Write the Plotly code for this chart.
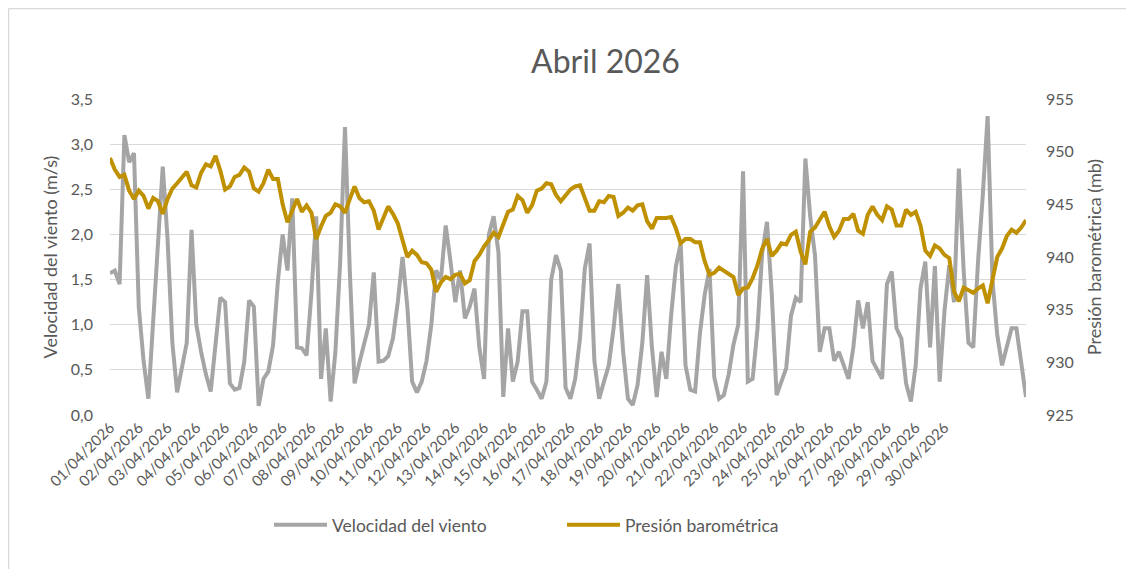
import plotly.graph_objects as go

# Sampling interval of the readings (hours)
SAMPLE_HOURS = 4

dates = ["01/04/2026", "02/04/2026", "03/04/2026", "04/04/2026", "05/04/2026",
         "06/04/2026", "07/04/2026", "08/04/2026", "09/04/2026", "10/04/2026",
         "11/04/2026", "12/04/2026", "13/04/2026", "14/04/2026", "15/04/2026",
         "16/04/2026", "17/04/2026", "18/04/2026", "19/04/2026", "20/04/2026",
         "21/04/2026", "22/04/2026", "23/04/2026", "24/04/2026", "25/04/2026",
         "26/04/2026", "27/04/2026", "28/04/2026", "29/04/2026", "30/04/2026"]

# Velocidad del viento (m/s), every 4 h
wind = [1.57, 1.6, 1.45, 3.1, 2.8, 2.9, 1.2, 0.6, 0.18, 1.0, 1.9, 2.75,
        1.95, 0.8, 0.25, 0.5, 0.8, 2.05, 1.0, 0.7, 0.45, 0.26, 0.8, 1.3,
        1.25, 0.35, 0.28, 0.3, 0.59, 1.27, 1.2, 0.1, 0.4, 0.48, 0.77, 1.48,
        2.0, 1.6, 2.4, 0.75, 0.74, 0.66, 1.35, 2.2, 0.4, 0.96, 0.15, 0.7,
        1.7, 3.19, 1.6, 0.35, 0.58, 0.8, 1.0, 1.58, 0.59, 0.6, 0.65, 0.85,
        1.25, 1.75, 1.2, 0.37, 0.25, 0.37, 0.6, 1.0, 1.6, 1.5, 2.1, 1.7,
        1.25, 1.6, 1.07, 1.2, 1.4, 0.75, 0.4, 2.0, 2.2, 1.8, 0.2, 0.96,
        0.37, 0.59, 1.15, 1.15, 0.37, 0.28, 0.18, 0.37, 1.5, 1.77, 1.6, 0.3,
        0.18, 0.4, 0.85, 1.62, 1.9, 0.6, 0.18, 0.37, 0.55, 0.96, 1.45, 0.7,
        0.18, 0.11, 0.33, 0.8, 1.55, 0.75, 0.2, 0.7, 0.4, 1.1, 1.65, 1.9,
        0.55, 0.28, 0.26, 0.9, 1.33, 1.62, 0.42, 0.18, 0.22, 0.45, 0.78, 1.0,
        2.7, 0.37, 0.4, 0.95, 1.8, 2.14, 1.33, 0.22, 0.37, 0.52, 1.1, 1.3,
        1.25, 2.84, 2.2, 1.77, 0.7, 0.96, 0.96, 0.6, 0.7, 0.55, 0.4, 0.75,
        1.27, 0.96, 1.25, 0.6, 0.5, 0.4, 1.45, 1.59, 0.96, 0.85, 0.35, 0.15,
        0.55, 1.4, 1.7, 0.75, 1.65, 0.37, 1.15, 1.66, 1.25, 2.73, 1.6, 0.8,
        0.75, 1.7, 2.44, 3.31, 1.5, 0.89, 0.55, 0.75, 0.96, 0.96, 0.55, 0.2]

# Presión barométrica (mb), every 4 h
pressure = [949.4, 948.3, 947.6, 947.8, 946.3, 945.5, 946.3, 945.8, 944.6, 945.6, 945.3, 944.1,
            945.5, 946.5, 947.0, 947.6, 948.1, 946.8, 946.6, 948.0, 948.8, 948.6, 949.6, 948.2,
            946.4, 946.7, 947.6, 947.8, 948.5, 948.1, 946.5, 946.2, 947.0, 948.3, 947.4, 947.4,
            945.0, 943.3, 944.5, 945.5, 944.3, 944.9, 944.2, 941.7, 942.9, 943.9, 944.2, 945.0,
            944.8, 944.2, 945.5, 946.7, 945.6, 945.2, 945.3, 944.4, 942.6, 943.8, 944.8, 944.1,
            943.2, 941.6, 940.0, 940.6, 940.2, 939.5, 939.4, 938.8, 936.7, 937.6, 938.1, 937.9,
            938.3, 938.4, 937.5, 937.8, 939.6, 940.2, 941.0, 941.6, 942.3, 941.9, 943.0, 944.3,
            944.5, 945.8, 945.4, 944.2, 944.9, 946.3, 946.5, 947.0, 946.9, 945.9, 945.3, 945.8,
            946.4, 946.7, 946.8, 945.6, 944.4, 944.4, 945.3, 945.2, 945.8, 945.7, 943.9, 944.2,
            944.7, 944.4, 944.9, 945.0, 943.4, 942.7, 943.7, 943.7, 943.7, 943.8, 942.7, 941.3,
            941.7, 941.7, 941.4, 941.4, 939.6, 938.3, 938.5, 939.0, 938.7, 938.5, 938.1, 936.4,
            937.0, 937.1, 938.0, 939.2, 940.8, 941.7, 940.1, 940.6, 941.3, 941.2, 942.1, 942.4,
            940.5, 939.3, 942.4, 942.8, 943.6, 944.3, 942.9, 941.9, 942.5, 943.6, 943.6, 944.1,
            942.5, 942.2, 944.0, 944.8, 944.0, 943.5, 944.8, 944.5, 943.0, 943.0, 944.5, 944.0,
            944.3, 943.0, 940.6, 940.1, 941.1, 940.8, 940.2, 939.9, 936.7, 935.8, 937.1, 936.8,
            936.6, 937.0, 937.3, 935.6, 937.8, 940.0, 940.8, 942.0, 942.6, 942.3, 942.8, 943.5]

hours = [i * SAMPLE_HOURS for i in range(len(wind))]
tick_hours = [24 * d for d in range(len(dates))]

TEXT = "#595959"
W, H = 1126, 561   # page adds an 8 px body margin around the figure

fig = go.Figure()
fig.add_trace(go.Scatter(x=hours, y=wind, name="Velocidad del viento", mode="lines",
                         line=dict(color="#A5A5A5", width=4), yaxis="y"))
fig.add_trace(go.Scatter(x=hours, y=pressure, name="Presión barométrica", mode="lines",
                         line=dict(color="#BF9000", width=4), yaxis="y2"))

# chart-area frame (left and top edges) drawn at the figure border
frame = dict(line=dict(color="#D9D9D9", width=1.5), layer="below",
             xref="paper", yref="paper")
x_left = -101.5 / 916
y_top = 1 + 90.5 / 316

fig.update_layout(
    width=W, height=H,
    margin=dict(l=102, r=108, t=91, b=154, autoexpand=False),
    paper_bgcolor="white", plot_bgcolor="white",
    separators=",.",
    font=dict(family="Lato", color=TEXT, size=15),
    title=dict(text="Abril 2026", x=597.5 / W, xanchor="center",
               y=1 - 54 / H, yanchor="middle", font=dict(size=32, color=TEXT)),
    xaxis=dict(range=[0, hours[-1]], tickvals=tick_hours, ticktext=dates, tickangle=-45,
               showgrid=False, zeroline=False, showline=False, ticks="", automargin=False,
               tickfont=dict(size=15, color=TEXT)),
    yaxis=dict(range=[0, 3.5], dtick=0.5, tick0=0, tickformat=".1f",
               gridcolor="#D9D9D9", gridwidth=1, zeroline=False, showline=False,
               ticks="", ticklabelstandoff=16, automargin=False,
               tickfont=dict(size=16, color=TEXT),
               title=dict(text="Velocidad del viento (m/s)", font=dict(size=18, color=TEXT),
                          standoff=8)),
    yaxis2=dict(range=[925, 955], dtick=5, tick0=925, overlaying="y", side="right",
                showgrid=False, zeroline=False, showline=False, ticks="", automargin=False,
                ticklabelstandoff=19, tickfont=dict(size=16, color=TEXT),
                title=dict(text="Presión barométrica (mb)", font=dict(size=18, color=TEXT),
                           standoff=15)),
    legend=dict(orientation="h", x=0.1736, xanchor="left", y=-0.348, yanchor="middle",
                font=dict(size=17.5, color=TEXT), bgcolor="rgba(0,0,0,0)",
                itemwidth=53, entrywidth=225),
    shapes=[dict(type="line", x0=x_left, x1=x_left, y0=-2, y1=y_top, **frame),
            dict(type="line", x0=x_left, x1=2, y0=y_top, y1=y_top, **frame)],
)

fig.write_html("out.html")
